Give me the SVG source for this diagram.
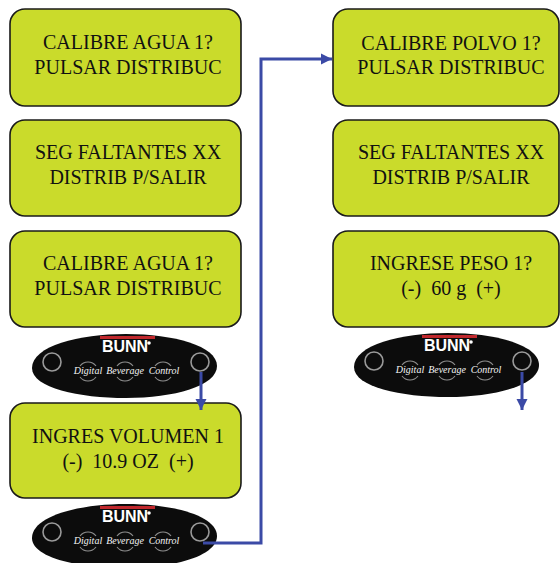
<svg xmlns="http://www.w3.org/2000/svg" xmlns:xlink="http://www.w3.org/1999/xlink" width="560" height="563" viewBox="0 0 560 563">
  <style>
    .box { fill: #CADB2B; stroke: #1a1a1a; stroke-width: 1.6; }
    .lbl { font-family: 'Liberation Serif', 'DejaVu Serif', 'Noto Serif', 'Times New Roman', Times, serif; font-size: 20px; fill: #111; text-anchor: middle; }
    .wire { fill: none; stroke: #3B4AA6; stroke-width: 3; }
    .btn { fill: none; stroke: #9a9a9a; stroke-width: 1.6; }
    .dial { fill: none; stroke: #8f8f8f; stroke-width: 1.1; }
    .brand { font-family: 'Liberation Sans', Arial, sans-serif; font-weight: bold; font-size: 16px; fill: #fff; text-anchor: middle; }
    .word { font-family: 'Liberation Serif', 'DejaVu Serif', 'Times New Roman', serif; font-style: italic; font-size: 10px; fill: #f4f4f4; text-anchor: middle; }
  </style>
  <defs>
    <marker id="arrow" markerUnits="userSpaceOnUse" markerWidth="14" markerHeight="14" viewBox="0 0 14 14" refX="11" refY="7" orient="auto">
      <path d="M0,1.5 L11,7 L0,12.5 Z" fill="#3B4AA6"/>
    </marker>
    <!-- control panel face, centred on (0,0) -->
    <g id="bunn-panel">
      <path d="M-92,2 C-92,-20 -45,-32 2,-32 C50,-32 93,-20 93,0 C93,20 50,32 2,32 C-45,32 -92,22 -92,2 Z" fill="#0c0c0c"/>
      <rect x="-24" y="-30" width="55" height="3" fill="#C0282D"/>
      <text class="brand" x="1" y="-14">BUNN</text>
      <circle cx="25" cy="-23" r="1.8" fill="#fff"/>
      <circle class="btn" cx="-72" cy="-4" r="9"/>
      <circle class="btn" cx="76" cy="-4" r="9"/>
      <path class="dial" d="M-44,0 A10,10 0 0 1 -28,0 M-44,11 A10,10 0 0 0 -28,11"/>
      <path class="dial" d="M-7,0 A10,10 0 0 1 9,0 M-7,11 A10,10 0 0 0 9,11"/>
      <path class="dial" d="M31,0 A10,10 0 0 1 47,0 M31,11 A10,10 0 0 0 47,11"/>
      <text class="word" x="-36" y="8">Digital</text>
      <text class="word" x="1" y="8">Beverage</text>
      <text class="word" x="40" y="8">Control</text>
    </g>
  </defs>

  <rect width="560" height="563" fill="#fff"/>

  <!-- left column -->
  <g id="calibre-agua-a">
    <rect class="box" x="10" y="9" width="231" height="97" rx="15"/>
    <text class="lbl" x="128" y="49">CALIBRE AGUA 1?</text>
    <text class="lbl" x="128" y="74">PULSAR DISTRIBUC</text>
  </g>
  <g id="seg-faltantes-a">
    <rect class="box" x="10" y="120" width="231" height="96" rx="15"/>
    <text class="lbl" x="128" y="159">SEG FALTANTES XX</text>
    <text class="lbl" x="128" y="184">DISTRIB P/SALIR</text>
  </g>
  <g id="calibre-agua-b">
    <rect class="box" x="10" y="231" width="231" height="96" rx="15"/>
    <text class="lbl" x="128" y="270">CALIBRE AGUA 1?</text>
    <text class="lbl" x="128" y="295">PULSAR DISTRIBUC</text>
  </g>
  <g id="panel-a">
    <use xlink:href="#bunn-panel" href="#bunn-panel" transform="translate(124,366)"/>
  </g>
  <g id="ingres-volumen">
    <rect class="box" x="10" y="403" width="231" height="95" rx="15"/>
    <text class="lbl" x="128" y="443">INGRES VOLUMEN 1</text>
    <text class="lbl" x="128" y="468" xml:space="preserve">(-)  10.9 OZ  (+)</text>
  </g>
  <g id="panel-b">
    <use xlink:href="#bunn-panel" href="#bunn-panel" transform="translate(124,536)"/>
  </g>

  <!-- right column -->
  <g id="calibre-polvo">
    <rect class="box" x="333" y="9" width="226" height="97" rx="15"/>
    <text class="lbl" x="451" y="50">CALIBRE POLVO 1?</text>
    <text class="lbl" x="451" y="74">PULSAR DISTRIBUC</text>
  </g>
  <g id="seg-faltantes-b">
    <rect class="box" x="333" y="120" width="226" height="96" rx="15"/>
    <text class="lbl" x="451" y="159">SEG FALTANTES XX</text>
    <text class="lbl" x="451" y="184">DISTRIB P/SALIR</text>
  </g>
  <g id="ingrese-peso">
    <rect class="box" x="333" y="231" width="226" height="96" rx="15"/>
    <text class="lbl" x="451" y="270">INGRESE PESO 1?</text>
    <text class="lbl" x="451" y="295" xml:space="preserve">(-)  60 g  (+)</text>
  </g>
  <g id="panel-c">
    <use xlink:href="#bunn-panel" href="#bunn-panel" transform="translate(446,365)"/>
  </g>

  <!-- connectors -->
  <g id="connectors">
    <path class="wire" d="M201,372 V410" marker-end="url(#arrow)"/>
    <path class="wire" d="M203,543 H261 V59 H332" marker-end="url(#arrow)"/>
    <path class="wire" d="M522,372 V410" marker-end="url(#arrow)"/>
  </g>
</svg>
